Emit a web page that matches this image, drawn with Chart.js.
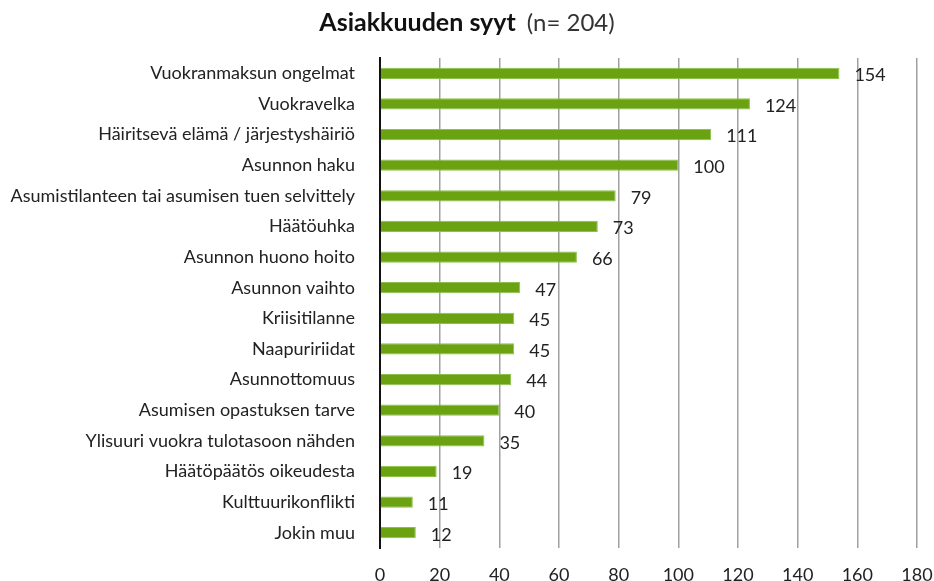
<!DOCTYPE html>
<html>
<head>
<meta charset="utf-8">
<script src="https://cdn.jsdelivr.net/npm/chart.js@4.4.1/dist/chart.umd.min.js"></script>
<style>
  html, body { margin: 0; padding: 0; background: #fff; }
  #wrap { width: 934px; height: 581px; }
</style>
</head>
<body>
<div id="wrap"><canvas id="chart" width="934" height="581"></canvas></div>
<script>
const categories = [
  "Vuokranmaksun ongelmat",
  "Vuokravelka",
  "Häiritsevä elämä / järjestyshäiriö",
  "Asunnon haku",
  "Asumistilanteen tai asumisen tuen selvittely",
  "Häätöuhka",
  "Asunnon huono hoito",
  "Asunnon vaihto",
  "Kriisitilanne",
  "Naapuririidat",
  "Asunnottomuus",
  "Asumisen opastuksen tarve",
  "Ylisuuri vuokra tulotasoon nähden",
  "Häätöpäätös oikeudesta",
  "Kulttuurikonflikti",
  "Jokin muu"
];
const counts = [154, 124, 111, 100, 79, 73, 66, 47, 45, 45, 44, 40, 35, 19, 11, 12];
const xTicks = [0, 20, 40, 60, 80, 100, 120, 140, 160, 180];
const titleBold = "Asiakkuuden syyt";
const titleNormal = "(n= 204)";

const fontFamily = "Lato, 'Open Sans', sans-serif";

// title with bold + normal parts
const titlePlugin = {
  id: "mixedTitle",
  afterDraw(chart) {
    const ctx = chart.ctx;
    ctx.save();
    ctx.textBaseline = "middle";
    ctx.fillStyle = "#111";
    ctx.font = "bold 25px " + fontFamily;
    const w1 = ctx.measureText(titleBold).width;
    ctx.font = "24px " + fontFamily;
    const w2 = ctx.measureText(titleNormal).width;
    const gap = 11;
    const x0 = 467 - (w1 + gap + w2) / 2;
    ctx.font = "bold 25px " + fontFamily;
    ctx.textAlign = "left";
    ctx.fillText(titleBold, x0, 23);
    ctx.font = "24px " + fontFamily;
    ctx.fillStyle = "#333";
    ctx.fillText(titleNormal, x0 + w1 + gap, 23);
    ctx.restore();
  }
};

// value labels right of bars
const valueLabels = {
  id: "valueLabels",
  afterDatasetsDraw(chart) {
    const ctx = chart.ctx;
    const meta = chart.getDatasetMeta(0);
    ctx.save();
    ctx.font = "18px " + fontFamily;
    ctx.fillStyle = "#222";
    ctx.textAlign = "left";
    ctx.textBaseline = "middle";
    meta.data.forEach((bar, i) => {
      ctx.fillText(String(counts[i]), bar.x + 15, bar.y + 2);
    });
    ctx.restore();
  }
};

new Chart(document.getElementById("chart"), {
  type: "bar",
  data: {
    labels: categories,
    datasets: [{
      data: counts,
      backgroundColor: "#6aa211",
      borderColor: "#8cc04a",
      borderWidth: 1,
      barPercentage: 0.74,
      categoryPercentage: 0.5
    }]
  },
  options: {
    indexAxis: "y",
    responsive: false,
    animation: false,
    layout: { padding: { top: 58, right: 17, bottom: 0, left: 0 } },
    plugins: {
      legend: { display: false },
      title: { display: false },
      tooltip: { enabled: false }
    },
    scales: {
      x: {
        min: 0,
        max: 180,
        afterBuildTicks(scale) {
          scale.ticks = xTicks.map(v => ({ value: v }));
        },
        afterFit(scale) {
          scale.height = 33;
          scale.paddingLeft = 0;
          scale.paddingRight = 0;
        },
        grid: { color: "#a0a0a0", lineWidth: 1.5, drawTicks: false },
        border: { display: false },
        ticks: {
          color: "#222",
          font: { size: 18, family: fontFamily },
          padding: 16,
          maxRotation: 0
        }
      },
      y: {
        afterFit(scale) { scale.width = 380; },
        grid: { display: false },
        border: { display: true, color: "#111", width: 2 },
        ticks: {
          color: "#222",
          font: { size: 18, family: fontFamily },
          padding: 17,
          autoSkip: false
        }
      }
    }
  },
  plugins: [titlePlugin, valueLabels]
});
</script>
</body>
</html>
